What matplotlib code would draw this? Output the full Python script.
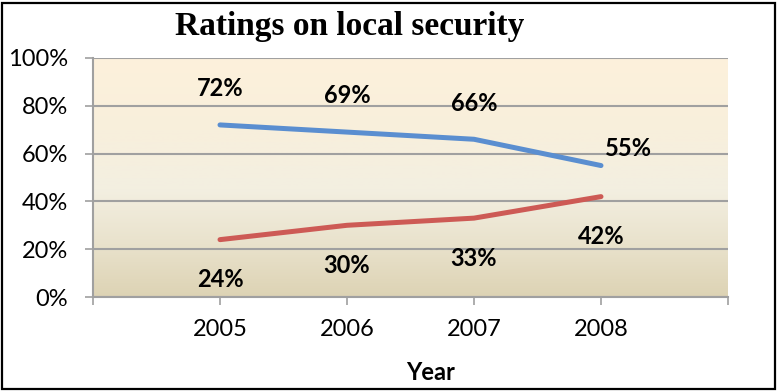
import matplotlib
matplotlib.use("Agg")
import matplotlib.pyplot as plt
import numpy as np
from matplotlib.colors import LinearSegmentedColormap
from matplotlib.patches import Rectangle

years = ["2005", "2006", "2007", "2008"]
series_a = [72, 69, 66, 55]
series_b = [24, 30, 33, 42]
yticks = [0, 20, 40, 60, 80, 100]
ytick_labels = ["0%", "20%", "40%", "60%", "80%", "100%"]
title = "Ratings on local security"
xlabel = "Year"

W, H = 778, 391
fig = plt.figure(figsize=(W / 100, H / 100), dpi=100)
fig.patch.set_facecolor("white")
fig.add_artist(Rectangle((2 / W, 2 / H), (W - 5) / W, (H - 5) / H, transform=fig.transFigure,
                         fill=False, edgecolor="black", linewidth=1.6))

L, R, T, B = 93, 728, 58, 297
ax = fig.add_axes([L / W, (H - B) / H, (R - L) / W, (B - T) / H])

# gradient background
cmap = LinearSegmentedColormap.from_list("bg", [
    (0.0, (221 / 255, 211 / 255, 180 / 255)),
    (0.22, (233 / 255, 226 / 255, 204 / 255)),
    (0.45, (243 / 255, 239 / 255, 225 / 255)),
    (0.7, (248 / 255, 239 / 255, 220 / 255)),
    (1.0, (253 / 255, 241 / 255, 219 / 255)),
])
grad = np.linspace(0, 1, 256).reshape(-1, 1)
ax.imshow(grad, extent=[0, 1, 0, 1], transform=ax.transAxes, origin="lower",
          cmap=cmap, aspect="auto", zorder=0)

x = np.arange(1, len(years) + 1)
ax.set_xlim(0, len(years) + 1)
ax.set_ylim(0, 100)

blue = "#5A8ED0"
red = "#CD5A55"
ax.plot(x, series_a, color=blue, linewidth=3.6, solid_capstyle="round", solid_joinstyle="round", zorder=3)
ax.plot(x, series_b, color=red, linewidth=3.6, solid_capstyle="round", solid_joinstyle="round", zorder=3)

lab_font = dict(family="Lato", fontsize=17, fontweight="bold", color="black")
for i, (xi, v) in enumerate(zip(x, series_a)):
    if i == len(x) - 1:
        ax.annotate(f"{v}%", (xi, v), xytext=(3, 12), textcoords="offset points",
                    ha="left", va="center", zorder=4, **lab_font)
    else:
        ax.annotate(f"{v}%", (xi, v), xytext=(0, 26), textcoords="offset points",
                    ha="center", va="center", zorder=4, **lab_font)
for xi, v in zip(x, series_b):
    ax.annotate(f"{v}%", (xi, v), xytext=(0, -29), textcoords="offset points",
                ha="center", va="center", zorder=4, **lab_font)

ax.set_yticks(yticks)
ax.set_yticklabels(ytick_labels, family="Lato", fontsize=17)
ax.yaxis.grid(True, color="#A0A0A0", linewidth=1.5, zorder=1)
ax.set_axisbelow(False)
for gl in ax.get_ygridlines():
    gl.set_zorder(1)

ax.set_xticks(np.arange(0, len(years) + 2))
ax.set_xticklabels([""] + years + [""], family="Lato", fontsize=17)
ax.tick_params(axis="both", colors="#A0A0A0", length=6, width=1.2, labelcolor="black")
ax.tick_params(axis="x", pad=10)
ax.tick_params(axis="y", pad=12)
for s in ["top", "right"]:
    ax.spines[s].set_visible(False)
for s in ["left", "bottom"]:
    ax.spines[s].set_color("#A0A0A0")
    ax.spines[s].set_linewidth(1.5)
    ax.spines[s].set_zorder(2)

fig.text(350 / W, 1 - 27 / H, title, family="Liberation Serif", fontsize=24, fontweight="bold",
         ha="center", va="center")
fig.text(431 / W, 1 - 372 / H, xlabel, family="Lato", fontsize=17, fontweight="bold",
         ha="center", va="center")

fig.savefig("out.png", dpi=100, facecolor="white")
